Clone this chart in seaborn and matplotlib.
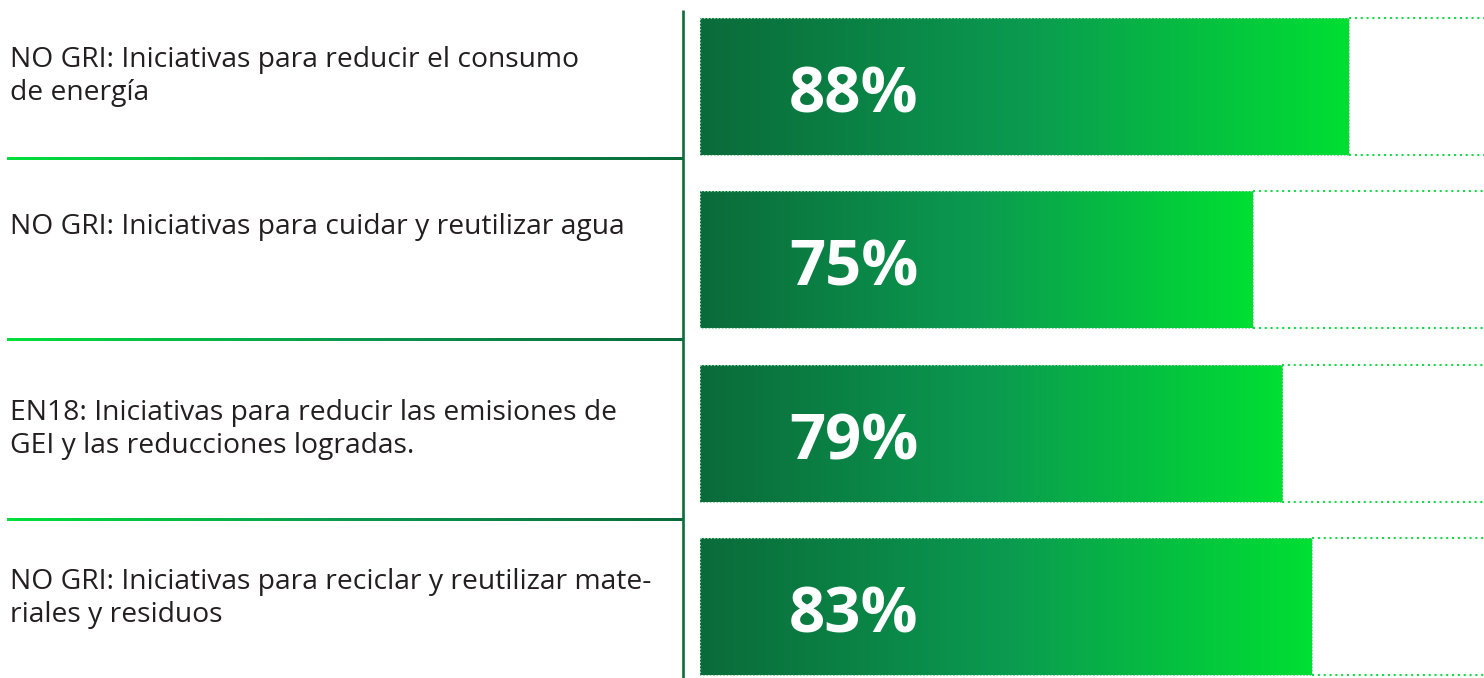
import numpy as np
import pandas as pd
import matplotlib
matplotlib.use("Agg")
import matplotlib.pyplot as plt
from matplotlib.colors import LinearSegmentedColormap
import seaborn as sns

# ---- data ----
categories = [
    "NO GRI: Iniciativas para reducir el consumo\nde energía",
    "NO GRI: Iniciativas para cuidar y reutilizar agua",
    "EN18: Iniciativas para reducir las emisiones de\nGEI y las reducciones logradas.",
    "NO GRI: Iniciativas para reciclar y reutilizar mate-\nriales y residuos",
]
values = [88, 75, 79, 83]
value_labels = ["88%", "75%", "79%", "83%"]

df = pd.DataFrame({"categoria": categories, "valor": values})

sns.set_theme(style="white")
plt.rcParams["font.family"] = ["Open Sans", "DejaVu Sans"]

W, H, DPI = 1484, 678, 100
fig = plt.figure(figsize=(W / DPI, H / DPI), dpi=DPI)
fig.patch.set_facecolor("white")

bar_cmap = LinearSegmentedColormap.from_list(
    "bar", [(0, "#0a6b3a"), (0.5, "#0b9a50"), (1, "#00df33")])
sep_cmap = LinearSegmentedColormap.from_list(
    "sep", [(0, "#00e03a"), (0.5, "#0b9a4f"), (1, "#0a6b3a")])

# ---- overlay axes in pixel units for decorations ----
deco = fig.add_axes([0, 0, 1, 1])
deco.set_xlim(0, W)
deco.set_ylim(H, 0)
deco.axis("off")

# vertical divider
deco.plot([683, 683], [10, H], color="#0b6e3b", lw=1.9, solid_capstyle="butt")
# horizontal separators with gradient
grad = np.linspace(0, 1, 256).reshape(1, -1)
for ysep in [159, 340, 520]:
    deco.imshow(grad, cmap=sep_cmap, extent=[7, 683, ysep + 1.2, ysep - 1.2],
                aspect="auto", interpolation="bilinear")

# left labels (baseline of the last line)
label_baselines = [100, 234, 453, 622]
for cat, yb in zip(categories, label_baselines):
    deco.text(10, yb, cat, fontsize=20.3, color="#231f20", ha="left",
              va="baseline", linespacing=1.24)

# ---- bar axes ----
ax = fig.add_axes([700 / W, 0, (W - 700) / W, 1])
sns.barplot(data=df, x="valor", y="categoria", orient="h", width=0.79,
            color="#0b9a50", ax=ax)
ax.set_xlim(0, (W - 700) / 7.37)
ax.set_ylim(3.413, -0.499)
ax.axis("off")
ax.patch.set_alpha(0)

xmax = ax.get_xlim()[1]
for i, patch in enumerate(ax.patches):
    x0, y0 = patch.get_x(), patch.get_y()
    w, h = patch.get_width(), patch.get_height()
    patch.set_facecolor("none")
    patch.set_edgecolor("#8fd4a8")
    patch.set_linestyle((0, (1.5, 1.5)))
    patch.set_linewidth(0.8)
    im = ax.imshow(grad, cmap=bar_cmap, extent=[x0, x0 + w, y0 + h, y0],
                   aspect="auto", interpolation="bilinear", zorder=1)
    im.set_clip_path(patch)
    patch.set_zorder(2)
    # dotted guides to the right
    for yy in (y0, y0 + h):
        ax.plot([x0 + w, xmax], [yy, yy], color="#19d84a", lw=1.5,
                linestyle=(0, (1, 1.8)), zorder=2, clip_on=False)
    yc = y0 + h / 2
    ax.text(12.1, yc + 0.15, value_labels[i], fontsize=45.5, fontweight="bold",
            color="white", ha="left", va="baseline", zorder=3,
            family=["Open Sans", "DejaVu Sans"])

ax.set_ylim(3.413, -0.499)
fig.savefig("out.png", dpi=DPI, facecolor="white")
